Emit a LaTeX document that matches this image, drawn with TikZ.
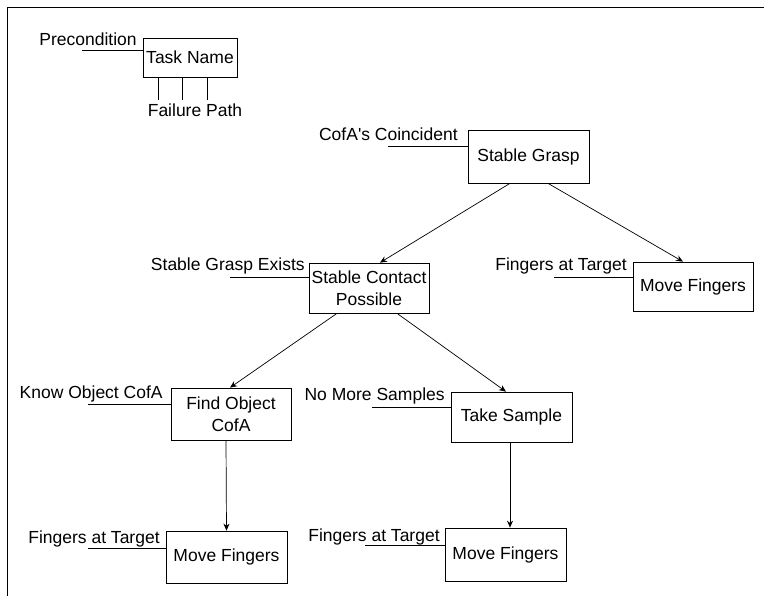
\documentclass[tikz,border=0pt]{standalone}
\usepackage{fontspec}
\setmainfont{Liberation Sans}
\usetikzlibrary{arrows.meta}
\tikzset{
  task/.style={draw,line width=0.7pt,align=center,inner sep=1pt,
    font=\fontsize{17.5}{22}\selectfont,minimum width=120pt,minimum height=50pt},
  pre/.style={anchor=base east,inner sep=0pt,font=\fontsize{17.5}{22}\selectfont},
}
\begin{document}
\begin{tikzpicture}[x=1pt,y=-1pt,line width=0.7pt,>={Stealth[length=7pt,width=6pt]}]
	\useasboundingbox (0,0) rectangle (764,596);
	\draw[line width=1pt] (764,8) -- (7,8) -- (7,596);
	% legend
	\node[task,minimum width=94pt,minimum height=39pt] (tn) at (190,57.5) {Task Name};
	\node[pre] (tnl) at (137,46) {Precondition};
	\coordinate (tnp) at (82,50);
	\draw (tnp) -- (tnp -| tn.west);
	\foreach \dx in {-32,-8,17} \draw ([xshift=\dx pt]tn.south) -- ++(0,23);
	\node[pre,anchor=center] (fp) at (195,110) {Failure Path};
	% tasks
	\node[task,minimum width=121pt,minimum height=53pt] (sg) at (528.5,156.5) {Stable Grasp};
	\node[task] (sc) at (369,288) {Stable Contact\\Possible};
	\node[task,minimum height=49pt] (mf1) at (693,286.5) {Move Fingers};
	\node[task,minimum height=52pt] (fo) at (231,414) {Find Object\\CofA};
	\node[task,minimum width=121pt] (ts) at (511.5,417) {Take Sample};
	\node[task,minimum width=121pt,minimum height=52pt] (mf2) at (226.5,557) {Move Fingers};
	\node[task,minimum width=121pt,minimum height=53pt] (mf3) at (505.5,554.5) {Move Fingers};
	% preconditions
	\node[pre] (sgl) at (458,141) {CofA\textquotesingle s Coincident};
	\coordinate (sgp) at (388,146);
	\draw (sgp) -- (sgp -| sg.west);
	\node[pre] (scl) at (305,271) {Stable Grasp Exists};
	\coordinate (scp) at (230,277);
	\draw (scp) -- (scp -| sc.west);
	\node[pre] (mf1l) at (627,271) {Fingers at Target};
	\coordinate (mf1p) at (554,277);
	\draw (mf1p) -- (mf1p -| mf1.west);
	\node[pre] (fol) at (163,399) {Know Object CofA};
	\coordinate (fop) at (88,404);
	\draw (fop) -- (fop -| fo.west);
	\node[pre] (tsl) at (445,401) {No More Samples};
	\coordinate (tsp) at (372,407);
	\draw (tsp) -- (tsp -| ts.west);
	\node[pre] (mf2l) at (160,543) {Fingers at Target};
	\coordinate (mf2p) at (88,548);
	\draw (mf2p) -- (mf2p -| mf2.west);
	\node[pre] (mf3l) at (440,541) {Fingers at Target};
	\coordinate (mf3p) at (365,545);
	\draw (mf3p) -- (mf3p -| mf3.west);
	% arrows
	\draw[->] ([xshift=-18.5pt]sg.south) -- ([xshift=11pt]sc.north);
	\draw[->] ([xshift=19.5pt]sg.south) -- ([xshift=-10pt]mf1.north);
	\draw[->] ([xshift=-32pt]sc.south) -- ([xshift=-1pt]fo.north);
	\draw[->] ([xshift=28pt]sc.south) -- ([xshift=-5.5pt]ts.north);
	\draw[->] ([xshift=-5pt]fo.south) -- (mf2.north);
	\draw[->] ([xshift=-1.5pt]ts.south) -- ([xshift=4.5pt]mf3.north);
\end{tikzpicture}
\end{document}
